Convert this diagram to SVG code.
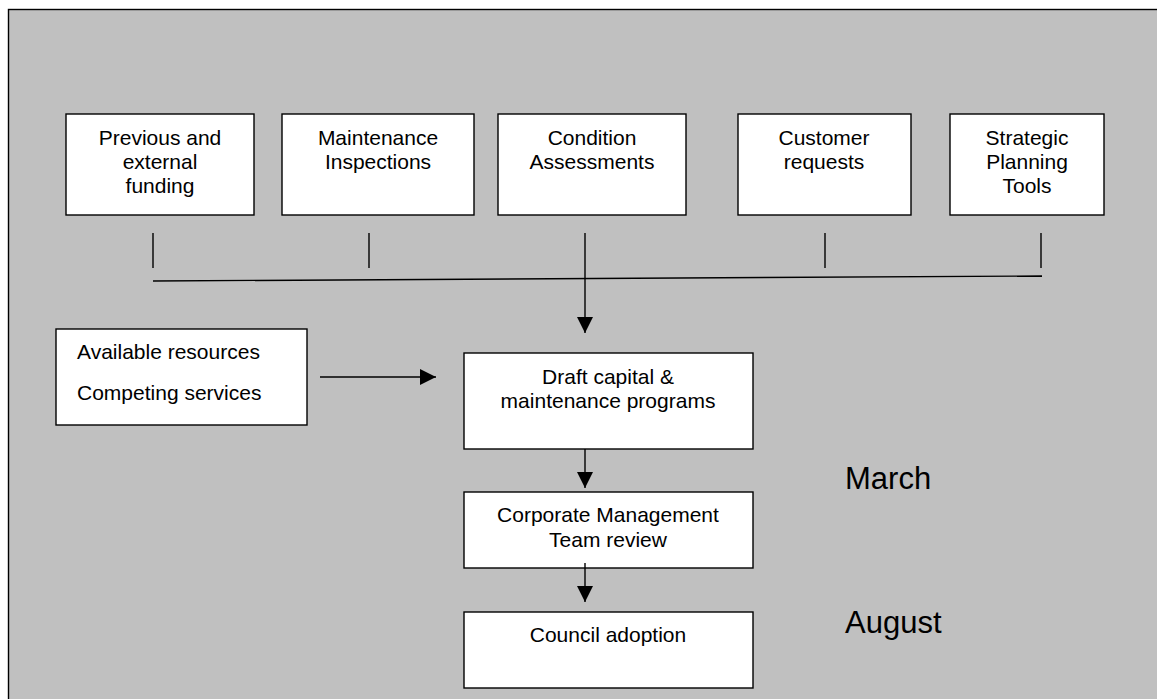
<svg xmlns="http://www.w3.org/2000/svg" width="1157" height="699" viewBox="0 0 1157 699">
<style>
.bg{fill:#c0c0c0;stroke:#000;stroke-width:1.4}
.box{fill:#fff;stroke:#000;stroke-width:1.4}
.t{font-family:"Liberation Sans",Arial,sans-serif;font-size:21px;fill:#000}
.c{text-anchor:middle}
.m{font-family:"Liberation Sans",Arial,sans-serif;font-size:31px;fill:#000}
.ln{stroke:#000;stroke-width:1.4;fill:none}
</style>
<defs>
<marker id="ah" markerUnits="userSpaceOnUse" markerWidth="16" markerHeight="16" viewBox="0 0 16 16" refX="16" refY="8" orient="auto">
<path d="M0,0 L16,8 L0,16 Z" fill="#000"/>
</marker>
</defs>
<rect class="bg" x="8.5" y="9.5" width="1160" height="700"/>
<g id="n1"><rect class="box" x="66" y="114" width="188" height="101"/>
<text class="t c" x="160" y="145">Previous and</text><text class="t c" x="160" y="169">external</text><text class="t c" x="160" y="193">funding</text></g>
<g id="n2"><rect class="box" x="282" y="114" width="192" height="101"/>
<text class="t c" x="378" y="145">Maintenance</text><text class="t c" x="378" y="169">Inspections</text></g>
<g id="n3"><rect class="box" x="498" y="114" width="188" height="101"/>
<text class="t c" x="592" y="145">Condition</text><text class="t c" x="592" y="169">Assessments</text></g>
<g id="n4"><rect class="box" x="738" y="114" width="173" height="101"/>
<text class="t c" x="824" y="145">Customer</text><text class="t c" x="824" y="169">requests</text></g>
<g id="n5"><rect class="box" x="950" y="114" width="154" height="101"/>
<text class="t c" x="1027" y="145">Strategic</text><text class="t c" x="1027" y="169">Planning</text><text class="t c" x="1027" y="193">Tools</text></g>
<g id="n6"><rect class="box" x="56" y="329" width="251" height="96"/>
<text class="t" x="77" y="359">Available resources</text><text class="t" x="77" y="400">Competing services</text></g>
<g id="n7"><rect class="box" x="464" y="353" width="289" height="96"/>
<text class="t c" x="608" y="384">Draft capital &amp;</text><text class="t c" x="608" y="408">maintenance programs</text></g>
<g id="n8"><rect class="box" x="464" y="492" width="289" height="76"/>
<text class="t c" x="608" y="522">Corporate Management</text><text class="t c" x="608" y="547">Team review</text></g>
<g id="n9"><rect class="box" x="464" y="612" width="289" height="76"/>
<text class="t c" x="608" y="642">Council adoption</text></g>
<g id="labels">
<text class="m" x="845" y="489">March</text>
<text class="m" x="845" y="633">August</text>
</g>
<g id="connectors">
<line class="ln" x1="153" y1="233" x2="153" y2="268"/>
<line class="ln" x1="369" y1="233" x2="369" y2="268"/>
<line class="ln" x1="825" y1="233" x2="825" y2="268"/>
<line class="ln" x1="1041" y1="233" x2="1041" y2="268"/>
<line class="ln" x1="153" y1="281" x2="1042" y2="276"/>
<line class="ln" x1="585" y1="233" x2="585" y2="333" marker-end="url(#ah)"/>
<line class="ln" x1="320" y1="377" x2="436" y2="377" marker-end="url(#ah)"/>
<line class="ln" x1="585" y1="449" x2="585" y2="488" marker-end="url(#ah)"/>
<line class="ln" x1="585" y1="563" x2="585" y2="602" marker-end="url(#ah)"/>
</g>
</svg>
